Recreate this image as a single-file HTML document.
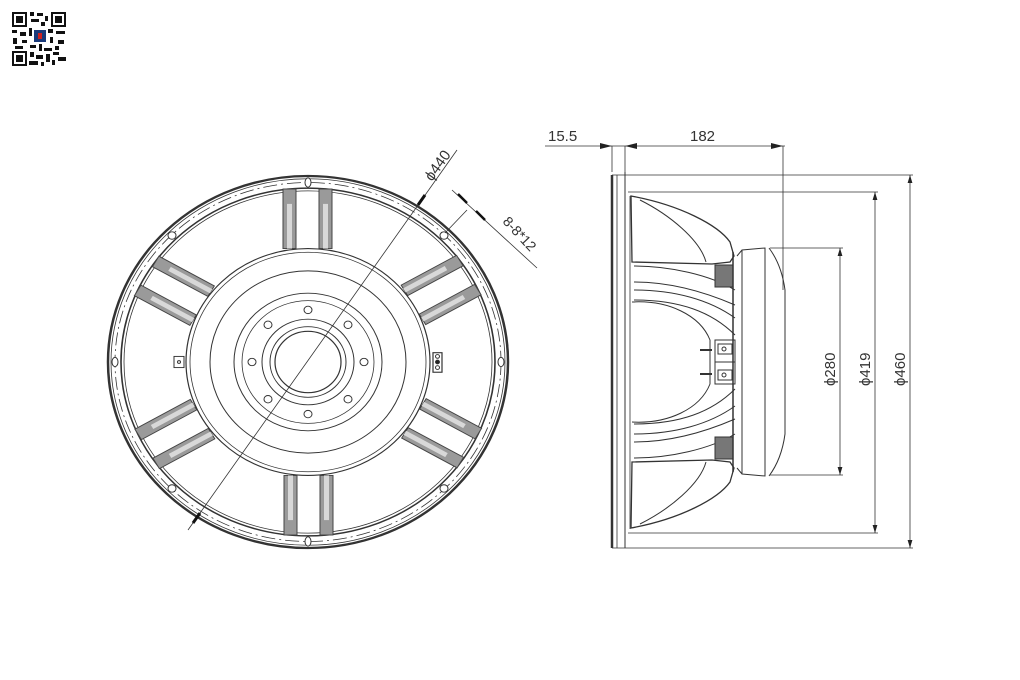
<!DOCTYPE html>
<html><head><meta charset="utf-8"><style>
html,body{margin:0;padding:0;background:#fff;}
svg{display:block;}
text{font-family:"Liberation Sans",sans-serif;fill:#333;}
</style></head><body>
<svg width="1020" height="680" viewBox="0 0 1020 680" xmlns="http://www.w3.org/2000/svg">
<defs>
<g id="pair" stroke="#444" stroke-width="1">
  <rect x="-25" y="-186" width="13" height="64" fill="#9a9a9a"/>
  <rect x="-21" y="-170" width="5" height="48" fill="#d8d8d8" stroke="none"/>
  <rect x="11" y="-186" width="13" height="64" fill="#9a9a9a"/>
  <rect x="15" y="-170" width="5" height="48" fill="#d8d8d8" stroke="none"/>
</g>
<marker id="ar" viewBox="0 0 10 10" refX="10" refY="5" markerWidth="8" markerHeight="8" orient="auto-start-reverse" markerUnits="userSpaceOnUse"><path d="M0,2 L10,5 L0,8 Z" fill="#222"/></marker>
</defs>

<!-- QR code -->
<g fill="#111">
  <rect x="12" y="12" width="54" height="54" fill="#fff"/>
  <rect x="12" y="12" width="15" height="15"/><rect x="14" y="14" width="11" height="11" fill="#fff"/><rect x="16" y="16" width="7" height="7"/>
  <rect x="51" y="12" width="15" height="15"/><rect x="53" y="14" width="11" height="11" fill="#fff"/><rect x="55" y="16" width="7" height="7"/>
  <rect x="12" y="51" width="15" height="15"/><rect x="14" y="53" width="11" height="11" fill="#fff"/><rect x="16" y="55" width="7" height="7"/>
  <rect x="30" y="12" width="4" height="4"/><rect x="37" y="13" width="6" height="3"/><rect x="45" y="16" width="3" height="5"/><rect x="31" y="19" width="8" height="3"/><rect x="41" y="22" width="4" height="4"/>
  <rect x="12" y="30" width="5" height="3"/><rect x="20" y="32" width="6" height="4"/><rect x="13" y="38" width="4" height="6"/><rect x="22" y="40" width="5" height="3"/><rect x="15" y="46" width="8" height="3"/>
  <rect x="29" y="28" width="3" height="8"/><rect x="34" y="30" width="12" height="12" fill="#1a3a7a"/><rect x="38" y="33" width="4" height="6" fill="#c22"/>
  <rect x="48" y="29" width="5" height="4"/><rect x="56" y="31" width="9" height="3"/><rect x="50" y="37" width="3" height="6"/><rect x="58" y="40" width="6" height="4"/><rect x="55" y="46" width="4" height="4"/>
  <rect x="30" y="45" width="6" height="3"/><rect x="39" y="44" width="3" height="7"/><rect x="44" y="48" width="8" height="3"/><rect x="30" y="52" width="4" height="5"/><rect x="36" y="55" width="7" height="4"/>
  <rect x="46" y="54" width="4" height="8"/><rect x="53" y="52" width="6" height="3"/><rect x="58" y="57" width="8" height="4"/><rect x="29" y="61" width="9" height="4"/><rect x="41" y="62" width="3" height="4"/><rect x="52" y="60" width="3" height="5"/>
</g>

<!-- FRONT VIEW -->
<g transform="translate(308,362) scale(1,0.93)" fill="none" stroke="#333">
  <circle r="200" stroke-width="2.5"/>
  <circle r="197" stroke-width="0.8"/>
  <circle r="193" stroke-width="0.8" stroke-dasharray="14 4 2 4"/>
  <circle r="187" stroke-width="1.6"/>
  <circle r="184" stroke-width="0.8"/>
  <use href="#pair"/>
  <use href="#pair" transform="rotate(60)"/>
  <use href="#pair" transform="rotate(120)"/>
  <use href="#pair" transform="rotate(180)"/>
  <use href="#pair" transform="rotate(240)"/>
  <use href="#pair" transform="rotate(300)"/>
  <circle r="122" fill="#fff" stroke-width="1.2"/>
  <circle r="118" stroke-width="0.8"/>
  <circle r="98" stroke-width="1"/>
  <circle r="74" stroke-width="1"/>
  <circle r="66" stroke-width="0.8"/>
  <circle r="46" stroke-width="1"/>
  <circle r="38" stroke-width="1"/>
  <circle r="33" stroke-width="1.2"/>
  <g stroke-width="1">
    <circle cx="0" cy="-56" r="4"/><circle cx="0" cy="56" r="4"/><circle cx="-56" cy="0" r="4"/><circle cx="56" cy="0" r="4"/>
    <circle cx="40" cy="-40" r="4"/><circle cx="-40" cy="-40" r="4"/><circle cx="40" cy="40" r="4"/><circle cx="-40" cy="40" r="4"/>
  </g>
  <g stroke-width="1" fill="#fff">
    <ellipse cx="0" cy="-193" rx="3" ry="5"/><ellipse cx="0" cy="193" rx="3" ry="5"/>
    <ellipse cx="-193" cy="0" rx="3" ry="5"/><ellipse cx="193" cy="0" rx="3" ry="5"/>
    <ellipse cx="136" cy="-136" rx="4" ry="4"/><ellipse cx="-136" cy="-136" rx="4" ry="4"/>
    <ellipse cx="136" cy="136" rx="4" ry="4"/><ellipse cx="-136" cy="136" rx="4" ry="4"/>
  </g>
  <rect x="-134" y="-6" width="10" height="12" stroke-width="1"/>
  <circle cx="-129" cy="0" r="1.5"/>
  <rect x="125" y="-10" width="9" height="21" stroke-width="1.2"/>
  <circle cx="129.5" cy="-6" r="2"/><circle cx="129.5" cy="0" r="2" fill="#222"/><circle cx="129.5" cy="6" r="2"/>
</g>
<!-- diameter line -->
<line x1="188" y1="530" x2="457" y2="150" stroke="#333" stroke-width="0.8"/>
<line x1="193" y1="523" x2="200" y2="513" stroke="#111" stroke-width="3"/>
<line x1="418" y1="205" x2="425" y2="195" stroke="#111" stroke-width="3"/>
<text transform="translate(432,182) rotate(-54.7)" font-size="15">ϕ440</text>
<!-- 8-8*12 dim -->
<line x1="452" y1="190" x2="537" y2="268" stroke="#333" stroke-width="0.8"/>
<line x1="445" y1="233" x2="467" y2="210" stroke="#333" stroke-width="0.8"/>
<line x1="458" y1="194" x2="467" y2="203" stroke="#111" stroke-width="2.5"/>
<line x1="476" y1="211" x2="485" y2="220" stroke="#111" stroke-width="2.5"/>
<text transform="translate(502,222) rotate(47)" font-size="14">8-8*12</text>

<!-- SIDE VIEW dims -->
<g stroke="#333" stroke-width="0.8" fill="none">
  <line x1="545" y1="146" x2="785" y2="146"/>
  <line x1="612" y1="146" x2="612" y2="172"/>
  <line x1="625" y1="146" x2="625" y2="175"/>
  <line x1="783" y1="146" x2="783" y2="290"/>
  <line x1="612" y1="175" x2="913" y2="175"/>
  <line x1="612" y1="548" x2="913" y2="548"/>
  <line x1="628" y1="192" x2="878" y2="192"/>
  <line x1="628" y1="533" x2="878" y2="533"/>
  <line x1="770" y1="248" x2="843" y2="248"/>
  <line x1="770" y1="475" x2="843" y2="475"/>
  <line x1="910" y1="175" x2="910" y2="548" marker-start="url(#ar)" marker-end="url(#ar)"/>
  <line x1="875" y1="192" x2="875" y2="533" marker-start="url(#ar)" marker-end="url(#ar)"/>
  <line x1="840" y1="248" x2="840" y2="475" marker-start="url(#ar)" marker-end="url(#ar)"/>
</g>
<path d="M600,143 L612,146 L600,149 Z M637,143 L625,146 L637,149 Z M771,143 L783,146 L771,149 Z" fill="#222"/>
<text x="548" y="141" font-size="15">15.5</text>
<text x="690" y="141" font-size="15">182</text>
<text transform="translate(835,386) rotate(-90)" font-size="15">ϕ280</text>
<text transform="translate(870,386) rotate(-90)" font-size="15">ϕ419</text>
<text transform="translate(905,386) rotate(-90)" font-size="15">ϕ460</text>

<!-- SIDE VIEW body -->
<g stroke="#333" fill="none">
  <line x1="612" y1="175" x2="612" y2="548" stroke-width="2.5"/>
  <line x1="617" y1="175" x2="617" y2="548" stroke-width="0.8"/>
  <line x1="625" y1="172" x2="625" y2="548" stroke-width="1"/>
  <line x1="630" y1="196" x2="630" y2="529" stroke-width="0.8"/>
  <g id="half" stroke-width="1">
    <path d="M631,196 C680,205 718,225 730,242 L734,256 L730,262 L712,264 L632,262 Z" stroke-width="1.3"/>
    <path d="M640,200 C670,215 700,240 706,262"/>
    <path d="M634,266 C670,266 710,275 735,290 M634,282 C670,282 705,292 735,305"/>
    <path d="M634,290 C675,290 710,300 735,318 M634,300 C680,300 712,312 735,335"/>
    <path d="M632,302 C668,300 700,315 710,340 L710,362"/>
    <rect x="715" y="265" width="18" height="22" fill="#777" stroke="#333"/>
    <line x1="733" y1="252" x2="733" y2="362" stroke-width="1.5"/>
    <rect x="715" y="340" width="20" height="22"/>
    <rect x="718" y="344" width="14" height="10"/>
    <circle cx="724" cy="349" r="2"/>
    <line x1="700" y1="350" x2="712" y2="350" stroke-width="2"/>
    <path d="M737,256 L742,250 L765,248 L765,362 M742,250 L742,362"/>
    <path d="M769,248 C778,260 783,275 785,290 L785,362"/>
  </g>
  <use href="#half" transform="translate(0,724) scale(1,-1)"/>
</g>
</svg>
</body></html>
